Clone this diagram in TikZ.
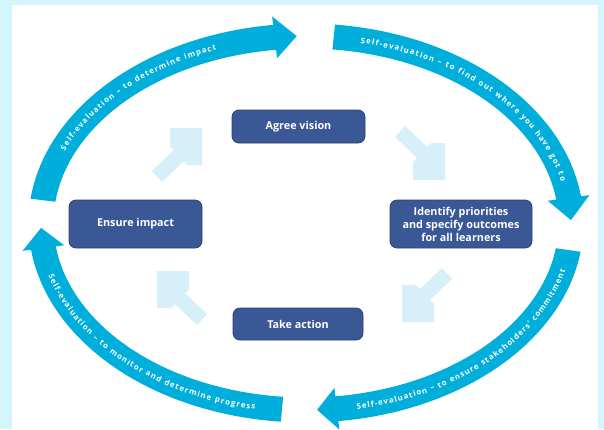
\documentclass[tikz,border=0pt]{standalone}
\usepackage{fontspec}
\setmainfont{Open Sans}
\usetikzlibrary{decorations.text}
\definecolor{bgcyan}{HTML}{D2F6FB}
\definecolor{arrowblue}{HTML}{00AEDB}
\definecolor{lightblue}{HTML}{D7EFF9}
\definecolor{boxblue}{HTML}{3A5896}
\def\cx{306}\def\cy{223}\def\rx{265}\def\ry{187}\def\hw{12.5}\def\hh{21}
\newcommand\arrfont{\bfseries\fontsize{7.8}{8}\selectfont}
\newcommand\bigarr[3]{%
  \fill[bigarrow] plot[domain=#1:#2,samples=40] ({\cx+(\rx+\hw)*cos(\x)},{\cy-(\ry+\hw)*sin(\x)})
   -- ({\cx+(\rx+\hh)*cos(#2)},{\cy-(\ry+\hh)*sin(#2)})
   -- ({\cx+\rx*cos(#3)},{\cy-\ry*sin(#3)})
   -- ({\cx+(\rx-\hh)*cos(#2)},{\cy-(\ry-\hh)*sin(#2)})
   -- plot[domain=#2:#1,samples=40] ({\cx+(\rx-\hw)*cos(\x)},{\cy-(\ry-\hw)*sin(\x)}) -- cycle;}
\newcommand\arctext[4]{%
  \path[decorate,decoration={text along path,text color=white,text={|\arrfont|#4},text align=fit to path}]
   plot[domain=#1:#2,samples=60] ({\cx+(\rx+#3)*cos(\x)},{\cy-(\ry+#3)*sin(\x)});}
\newcommand\cornerarrow[1]{%
  \fill[lightarrow,#1] (-32,0) -- (0,0) -- (0,37) -- (-14,37) -- (-18,33) -- (-40,54)
   -- (-50,43) -- (-28,22) -- (-32,18) -- cycle;}
\tikzset{
  bigarrow/.style={fill=arrowblue},
  lightarrow/.style={fill=lightblue},
  stage/.style={fill=boxblue,draw=boxblue!75!black,line width=0.8pt,rounded corners=7pt,
    text=white,font=\bfseries\fontsize{10.8}{13}\selectfont,align=center,inner sep=0pt},
}
\begin{document}
\begin{tikzpicture}[x=1pt,y=-1pt]
\useasboundingbox (0,0) rectangle (604,429);
\fill[bgcyan] (0,0) rectangle (604,429);
\fill[white] (12,5) rectangle (598,429);
% big cycle arrows
\bigarr{173}{96.8}{92}
\bigarr{84}{7.7}{0.9}
\bigarr{-8.3}{-83.3}{-87.6}
\bigarr{-95.2}{-172.3}{-178.5}
% texts on arrows
\arctext{157}{110}{-3}{Self-evaluation – to determine impact}
\arctext{78}{13}{-3}{Self-evaluation – to find out where you have got to}
\arctext{-79}{-14.5}{3}{Self-evaluation – to ensure stakeholders' commitment}
\arctext{-164}{-101}{3}{Self-evaluation – to monitor and determine progress}
% light arrows
\cornerarrow{shift={(202,128)}}
\cornerarrow{shift={(445,180)},yscale=-1}
\cornerarrow{shift={(402,322)},xscale=-1,yscale=-1}
\cornerarrow{shift={(157,271)},xscale=-1}
% stages
\node[stage,minimum width=133pt,minimum height=33pt] (vision) at (298.5,126.5) {Agree vision};
\node[stage,minimum width=142pt,minimum height=48pt] (identify) at (461,224) {Identify priorities\\and specify outcomes\\for all learners};
\node[stage,minimum width=130pt,minimum height=32pt] (action) at (298,324) {Take action};
\node[stage,minimum width=133pt,minimum height=48pt] (impact) at (135.5,224) {Ensure impact};
\end{tikzpicture}
\end{document}
